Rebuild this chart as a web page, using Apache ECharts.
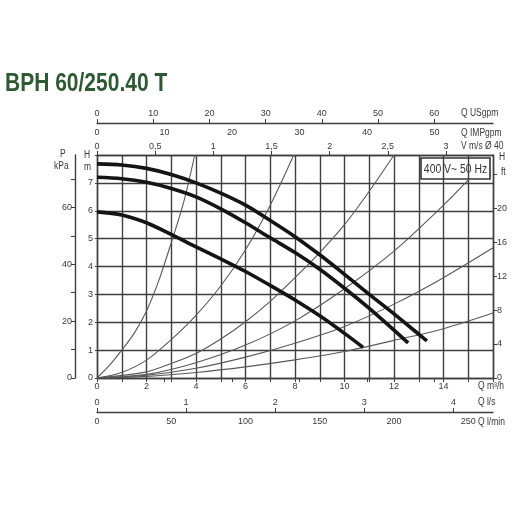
<!DOCTYPE html>
<html><head><meta charset="utf-8">
<script src="https://cdn.jsdelivr.net/npm/echarts@6/dist/echarts.min.js"></script>
<style>html,body{margin:0;padding:0;background:#fff}#c{width:524px;height:524px}</style>
</head><body><div id="c"></div>
<script>
// ---- data ----
const titleText = 'BPH 60/250.40 T';
const boxText = '400 V~ 50 Hz';
// pump curves: [Q m3/h, H m]
const pumpHigh = [[0,7.68],[1,7.64],[2,7.52],[3,7.3],[4,7.0],[5,6.63],[6,6.2],[7,5.65],[8,5.07],[9,4.42],[10,3.72],[11,3.0],[12,2.3],[13,1.57],[13.33,1.33]];
const pumpMid = [[0,7.2],[1,7.15],[2,7.02],[3,6.8],[4,6.5],[5,6.07],[6,5.57],[7,5.03],[8,4.5],[9,3.9],[10,3.22],[11,2.5],[12,1.72],[12.57,1.26]];
const pumpLow = [[0,5.96],[1,5.85],[2,5.57],[3,5.15],[4,4.7],[5,4.27],[6,3.82],[7,3.32],[8,2.8],[9,2.23],[10,1.6],[10.75,1.1]];
// system curves
const sysA = [[0,0],[0.5,0.45],[1,1.0],[1.5,1.6],[2,2.4],[2.5,3.5],[3,4.85],[3.5,6.3],[3.95,8]];
const sysB = [[0,0],[1,0.2],[2,0.64],[3,1.38],[4,2.25],[5,3.3],[6,4.6],[7,6.2],[7.95,8]];
const sysC = [[0,0],[2,0.22],[3,0.52],[4,0.88],[5,1.4],[6,2.02],[7,2.75],[8,3.6],[9,4.5],[10,5.5],[11,6.7],[12,8]];
const sysD = [[0,0],[2,0.13],[4,0.55],[6,1.18],[8,2.05],[10,3.2],[12,4.55],[14,6.2],[15.05,7.15]];
const sysE = [[0,0],[2,0.1],[4,0.35],[6,0.75],[8,1.25],[10,1.85],[12,2.65],[14,3.6],[16,4.67]];
const sysF = [[0,0],[2,0.06],[4,0.2],[6,0.4],[8,0.65],[10,0.95],[12,1.35],[14,1.77],[16,2.33]];
// axes ranges / ticks
const qMax = 16, hMax = 8;
const qLabels = [0,2,4,6,8,10,12,14];
const hLabels = [0,1,2,3,4,5,6,7];
const vPerQ = 1/4.70;          // m/s per m3/h (Ø40)
const vTicks = [0,0.5,1,1.5,2,2.5,3];
const usPerQ = 4.403, usTicks = [0,10,20,30,40,50,60];
const impPerQ = 3.666, impTicks = [0,10,20,30,40,50];
const lsPerQ = 1/3.6, lsTicks = [0,1,2,3,4];
const lminPerQ = 1000/60, lminTicks = [0,50,100,150,200,250];
const ftPerM = 3.2808, ftTicks = [0,4,8,12,16,20,24], ftLabels = [0,4,8,12,16,20];
const kpaPerM = 9.80665, kpaTicks = [0,10,20,30,40,50,60,70], kpaLabels = [0,20,40,60];

const FONT = "'Liberation Sans',Arial,sans-serif";
const TXT = '#383838';
const LINE = '#3e3e3e';
const lab = (o) => Object.assign({color: TXT, fontSize: 9, fontFamily: FONT}, o);
const axLine = {show: true, onZero: false, lineStyle: {color: LINE, width: 1.4}};
const tick = (o) => Object.assign({show: true, length: 4, lineStyle: {color: LINE, width: 1}}, o);

const chart = echarts.init(document.getElementById('c'), null, {renderer: 'canvas'});
const lineSeries = (d, thick) => ({
  type: 'line', data: d, showSymbol: false, smooth: 0.3, silent: true,
  xAxisIndex: 0, yAxisIndex: 0, z: thick ? 5 : 3,
  lineStyle: thick ? {color: '#141414', width: 3.6} : {color: '#585858', width: 1.1}
});
const nameText = (t, x, y, extra) => Object.assign({type: 'text', x: x, y: y, scaleX: 0.85, z: 50,
  style: {text: t, fill: TXT, font: '10px ' + FONT, verticalAlign: 'middle'}}, extra || {});

const option = {
  animation: false,
  backgroundColor: '#fff',
  grid: {left: 97, top: 155, width: 396, height: 223, containLabel: false},
  xAxis: [
    {type: 'value', position: 'bottom', min: 0, max: qMax, interval: 1,
     axisLine: axLine, axisTick: tick({}),
     axisLabel: lab({margin: 4, customValues: qLabels}),
     splitLine: {show: true, lineStyle: {color: LINE, width: 1.4}}},
    {type: 'value', position: 'top', min: 0, max: qMax * vPerQ,
     axisLine: axLine, axisTick: tick({customValues: vTicks}),
     axisLabel: lab({margin: 4, customValues: vTicks, formatter: v => String(v).replace('.', ',')}),
     splitLine: {show: false}},
    {type: 'value', position: 'top', offset: 32, min: 0, max: qMax * usPerQ,
     axisLine: axLine, axisTick: tick({customValues: usTicks}),
     axisLabel: lab({margin: 5, customValues: usTicks}), splitLine: {show: false}},
    {type: 'value', position: 'top', offset: 32, min: 0, max: qMax * impPerQ,
     axisLine: {show: false}, axisTick: tick({inside: true, customValues: impTicks}),
     axisLabel: lab({inside: true, margin: 5, customValues: impTicks}), splitLine: {show: false}},
    {type: 'value', position: 'bottom', offset: 34, min: 0, max: qMax * lsPerQ,
     axisLine: axLine, axisTick: tick({inside: true, customValues: lsTicks}),
     axisLabel: lab({inside: true, margin: 5, customValues: lsTicks}), splitLine: {show: false}},
    {type: 'value', position: 'bottom', offset: 34, min: 0, max: qMax * lminPerQ,
     axisLine: {show: false}, axisTick: tick({customValues: lminTicks}),
     axisLabel: lab({margin: 5, customValues: lminTicks}), splitLine: {show: false}}
  ],
  yAxis: [
    {type: 'value', position: 'left', min: 0, max: hMax, interval: 1,
     axisLine: axLine, axisTick: tick({length: 2}),
     axisLabel: lab({margin: 4, customValues: hLabels}),
     splitLine: {show: true, lineStyle: {color: LINE, width: 1.4}}},
    {type: 'value', position: 'right', min: 0, max: hMax * ftPerM,
     axisLine: axLine, axisTick: tick({customValues: ftTicks}),
     axisLabel: lab({margin: 4, customValues: ftLabels}), splitLine: {show: false}},
    {type: 'value', position: 'left', offset: 22, min: 0, max: hMax * kpaPerM,
     axisLine: axLine, axisTick: tick({customValues: kpaTicks}),
     axisLabel: lab({margin: 3, customValues: kpaLabels}), splitLine: {show: false}}
  ],
  series: [
    lineSeries(sysA, false), lineSeries(sysB, false), lineSeries(sysC, false),
    lineSeries(sysD, false), lineSeries(sysE, false), lineSeries(sysF, false),
    lineSeries(pumpHigh, true), lineSeries(pumpMid, true), lineSeries(pumpLow, true)
  ],
  graphic: [
    {type: 'text', x: 5, y: 84, scaleX: 0.84, z: 50,
     style: {text: titleText, fill: '#2d5a30', font: 'bold 25px ' + FONT, verticalAlign: 'middle'}},
    {type: 'group', x: 421, y: 158, z: 100, children: [
      {type: 'rect', shape: {x: 0, y: 0, width: 69, height: 21},
       style: {fill: '#fff', stroke: '#333', lineWidth: 1.6}},
      {type: 'text', x: 34.5, y: 11, scaleX: 0.8,
       style: {text: boxText, fill: '#333', font: '13px ' + FONT, align: 'center', verticalAlign: 'middle'}}
    ]},
    nameText('Q USgpm', 461, 113),
    nameText('Q IMPgpm', 461, 133),
    nameText('V m/s Ø 40', 461, 146),
    nameText('Q m³/h', 478, 386),
    nameText('Q l/s', 478, 402),
    nameText('Q l/min', 478, 422),
    nameText('H', 84, 155),
    nameText('m', 84, 167),
    nameText('P', 60, 154),
    nameText('kPa', 54, 166),
    nameText('H', 499, 157),
    nameText('ft', 501, 172)
  ]
};
chart.setOption(option);
</script>
</body></html>
